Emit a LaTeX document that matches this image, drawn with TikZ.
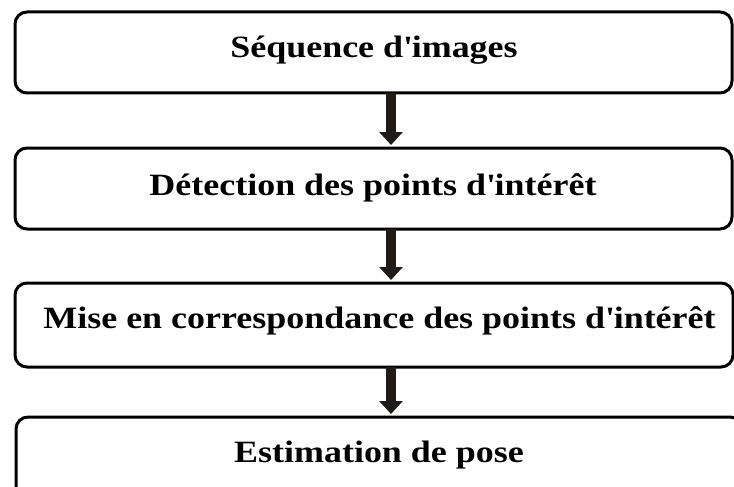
\documentclass[tikz,border=0pt]{standalone}
\usepackage{fontspec}
\setmainfont{Liberation Serif}[FakeStretch=1.16]
\usetikzlibrary{arrows.meta}
\definecolor{arrowcol}{HTML}{1E1B18}
\newcommand{\apo}{\textquotesingle}
\begin{document}
\begin{tikzpicture}[x=1pt,y=-1pt,
  stepbox/.style={draw=black, line width=3pt, rounded corners=12pt, inner sep=0pt, outer sep=0pt},
  txt/.style={font=\bfseries\fontsize{31}{36}\selectfont, inner sep=0pt, anchor=base},
  arr/.style={draw=arrowcol, line width=10pt, -{Triangle[width=23pt,length=13pt]}, shorten >=3pt}]
\useasboundingbox (0,0) rectangle (734,487);
\clip (0,0) rectangle (734,487);
\node[stepbox, minimum width=717pt, minimum height=81pt] (b1) at (373.5,52.5) {};
\node[stepbox, minimum width=717pt, minimum height=81pt] (b2) at (373.5,188.5) {};
\node[stepbox, minimum width=718pt, minimum height=84pt] (b3) at (374,325) {};
\node[stepbox, minimum width=726pt, minimum height=84pt] (b4) at (379,459) {};
\node[txt] (t1) at (374,58) {Séquence d\apo images};
\node[txt] (t2) at (373,195) {Détection des points d\apo intérêt};
\node[txt] (t3) at (379.5,328) {Mise en correspondance des points d\apo intérêt};
\node[txt] (t4) at (379,462) {Estimation de pose};
\coordinate (ax) at (391,0);
\draw[arr] (b1.south -| ax) -- (b2.north -| ax);
\draw[arr] (b2.south -| ax) -- (b3.north -| ax);
\draw[arr] (b3.south -| ax) -- (b4.north -| ax);
\end{tikzpicture}
\end{document}
